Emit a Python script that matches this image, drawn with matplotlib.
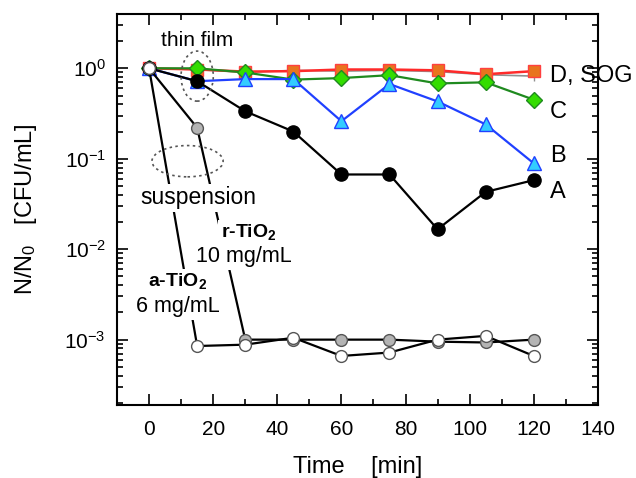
import matplotlib
matplotlib.use('Agg')
import matplotlib.pyplot as plt
from matplotlib.patches import Ellipse

plt.rcParams['font.family'] = ['Liberation Sans', 'DejaVu Sans']
plt.rcParams['mathtext.default'] = 'regular'

t = [0, 15, 30, 45, 60, 75, 90, 105, 120]

# thin films
film_a = [1.0, 0.72, 0.335, 0.20, 0.067, 0.067, 0.0166, 0.043, 0.058]
film_b = [1.0, 0.72, 0.76, 0.76, 0.26, 0.67, 0.43, 0.24, 0.089]
film_c = [1.0, 1.0, 0.90, 0.75, 0.78, 0.84, 0.68, 0.70, 0.45]
film_d = [1.0, 0.97, 0.92, 0.93, 0.97, 0.97, 0.95, 0.86, 0.93]
sog = [1.0, 0.97, 0.90, 0.95, 0.93, 0.95, 0.92, 0.85, 0.82]

# suspensions
a_tio2 = [1.0, 0.00085, 0.00088, 0.00105, 0.00066, 0.00072, 0.00100, 0.0011, 0.00066]
r_tio2 = [1.0, 0.22, 0.00100, 0.00100, 0.00100, 0.00100, 0.00095, 0.00093, 0.00100]

fig = plt.figure(figsize=(6.36, 4.78), dpi=100)
ax = fig.add_axes([0.184, 0.153, 0.756, 0.818])

ax.plot(t, sog, color='#909090', lw=1.2, marker='+', ms=7, zorder=2)
ax.plot(t, film_d, color='#ff2a2a', lw=1.8, marker='s', ms=9,
        mfc='#e8741e', mec='#ff4040', zorder=3)
ax.plot(t, film_c, color='#1f8a1f', lw=1.6, marker='D', ms=8.5,
        mfc='#33dd00', mec='#1f8a1f', zorder=4)
ax.plot(t, film_b, color='#2040ff', lw=1.6, marker='^', ms=9.5,
        mfc='#33ccff', mec='#2040ff', zorder=5)
ax.plot(t, film_a, color='black', lw=1.6, marker='o', ms=9.5,
        mfc='black', mec='black', zorder=6)
ax.plot(t, r_tio2, color='black', lw=1.6, marker='o', ms=8.5,
        mfc='#b4b4b4', mec='#555555', zorder=7)
ax.plot(t, a_tio2, color='black', lw=1.6, marker='o', ms=8.5,
        mfc='white', mec='#555555', zorder=8)

ax.set_yscale('log')
ax.set_xlim(-10, 140)
ax.set_ylim(1.9e-4, 4)
ax.set_xticks(range(0, 141, 20))
ax.set_xticks(range(-10, 141, 10), minor=True)
ax.tick_params(which='both', direction='in', top=True, right=True,
               labelsize=15, width=1.2)
ax.tick_params(which='major', length=8)
ax.tick_params(which='minor', length=4)
ax.tick_params(axis='x', pad=11)
ax.tick_params(axis='y', pad=8)
for s in ax.spines.values():
    s.set_linewidth(1.5)

ax.set_xlabel('Time    [min]', fontsize=17, labelpad=12)
ax.set_ylabel('N/N$_0$   [CFU/mL]', fontsize=17, labelpad=18)

# dotted ellipses marking groups
def ellipse(x, y, w, h):
    cx, cy = ax.transAxes.inverted().transform(ax.transData.transform((x, y)))
    e = Ellipse((cx, cy), w, h, transform=ax.transAxes, fill=False,
                ls=(0, (1.5, 2)), lw=1.2, ec='#555555', zorder=9)
    ax.add_patch(e)

ellipse(15, 0.82, 0.067, 0.128)
ellipse(12, 0.094, 0.148, 0.08)

box = dict(facecolor='white', edgecolor='none', pad=2)
ax.text(15, 2.05, 'thin film', fontsize=15, ha='center', va='center', zorder=10)
ax.text(15.5, 0.037, 'suspension', fontsize=16.5, ha='center', va='center',
        bbox=box, zorder=10)
ax.text(31, 0.0154, r'r-TiO$_2$', fontsize=14, fontweight='bold',
        ha='center', va='center', bbox=box, zorder=10)
ax.text(29.5, 0.0083, '10 mg/mL', fontsize=15.5, ha='center', va='center',
        bbox=box, zorder=10)
ax.text(9, 0.0044, r'a-TiO$_2$', fontsize=14, fontweight='bold',
        ha='center', va='center', bbox=box, zorder=10)
ax.text(9, 0.0023, '6 mg/mL', fontsize=15.5, ha='center', va='center',
        bbox=box, zorder=10)

for lab, y in [('D, SOG', 0.82), ('C', 0.33), ('B', 0.106), ('A', 0.043)]:
    ax.text(125, y, lab, fontsize=17, ha='left', va='center',
            clip_on=False, zorder=10)

fig.savefig('out.png', dpi=100)
